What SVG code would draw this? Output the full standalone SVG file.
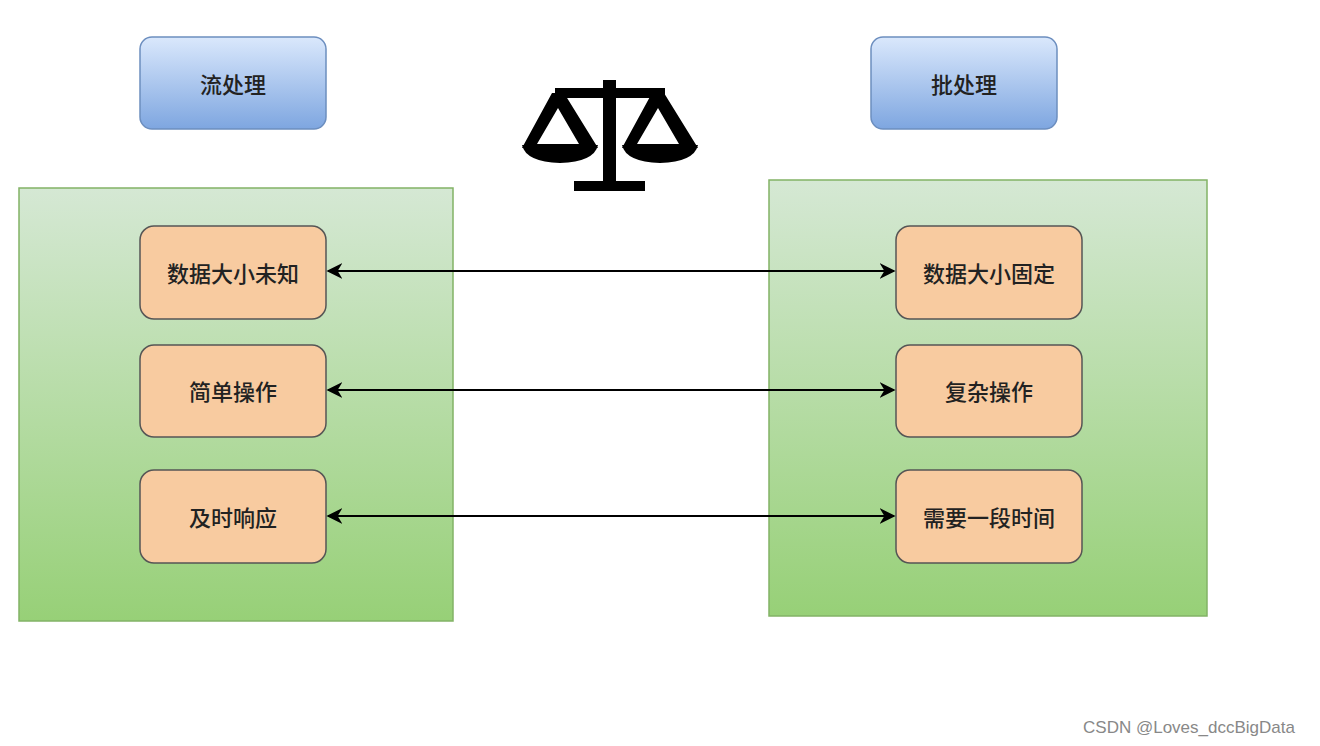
<svg xmlns="http://www.w3.org/2000/svg" width="1320" height="746" viewBox="0 0 1320 746">
<defs>
<linearGradient id="g" x1="0" y1="0" x2="0" y2="1"><stop offset="0" stop-color="#d5e8d4"/><stop offset="1" stop-color="#97d077"/></linearGradient>
<linearGradient id="b" x1="0" y1="0" x2="0" y2="1"><stop offset="0" stop-color="#dae8fc"/><stop offset="1" stop-color="#7ea6e0"/></linearGradient>
<marker id="a" viewBox="0 0 10 10" refX="9" refY="5" markerWidth="16" markerHeight="16" orient="auto-start-reverse" markerUnits="userSpaceOnUse"><path d="M0,0 L10,5 L0,10 L3,5 z" fill="#000"/></marker>
<style>
.c{fill:url(#g);stroke:#82b366;stroke-width:1.5}
.h{fill:url(#b);stroke:#6c8ebf;stroke-width:1.5}
.n{fill:#f8cba0;stroke:#555;stroke-width:1.5}
text{font-family:"Noto Sans CJK SC",sans-serif;font-size:22px;font-weight:500;fill:#222;text-anchor:middle;dominant-baseline:central}
.l{stroke:#000;stroke-width:2;fill:none;marker-start:url(#a);marker-end:url(#a)}
</style>
</defs>
<rect class="c" x="19" y="188" width="434" height="433"/>
<rect class="c" x="769" y="180" width="438" height="436"/>
<g id="h1"><rect class="h" x="140" y="37" width="186" height="92" rx="12"/><text x="233" y="83">流处理</text></g>
<g id="h2"><rect class="h" x="871" y="37" width="186" height="92" rx="12"/><text x="964" y="83">批处理</text></g>
<g id="scale" fill="#000">
<rect x="603" y="80" width="13" height="106"/>
<rect x="555" y="88" width="110" height="10"/>
<rect x="574" y="181" width="71" height="10"/>
<path d="M552,93 L564,93 L598,148 L522,148 Z M558,108 L537,144 L579,144 Z" fill-rule="evenodd"/>
<path d="M522,145 L598,145 Q594,162 560,163 Q526,162 522,145 Z"/>
<path d="M652,93 L664,93 L698,148 L622,148 Z M658,108 L637,144 L679,144 Z" fill-rule="evenodd"/>
<path d="M622,145 L698,145 Q694,162 660,163 Q626,162 622,145 Z"/>
</g>
<g id="n1"><rect class="n" x="140" y="226" width="186" height="93" rx="14"/><text x="233" y="272">数据大小未知</text></g>
<g id="n2"><rect class="n" x="140" y="345" width="186" height="92" rx="14"/><text x="233" y="390">简单操作</text></g>
<g id="n3"><rect class="n" x="140" y="470" width="186" height="93" rx="14"/><text x="233" y="516">及时响应</text></g>
<g id="n4"><rect class="n" x="896" y="226" width="186" height="93" rx="14"/><text x="989" y="272">数据大小固定</text></g>
<g id="n5"><rect class="n" x="896" y="345" width="186" height="92" rx="14"/><text x="989" y="390">复杂操作</text></g>
<g id="n6"><rect class="n" x="896" y="470" width="186" height="93" rx="14"/><text x="989" y="516">需要一段时间</text></g>
<g id="edges">
<line class="l" x1="328" y1="271" x2="894" y2="271"/>
<line class="l" x1="328" y1="390" x2="894" y2="390"/>
<line class="l" x1="328" y1="516" x2="894" y2="516"/>
</g>
<text x="1189" y="727" style="font-family:'Liberation Sans',sans-serif;font-size:17px;font-weight:400;fill:#888">CSDN @Loves_dccBigData</text>
</svg>
